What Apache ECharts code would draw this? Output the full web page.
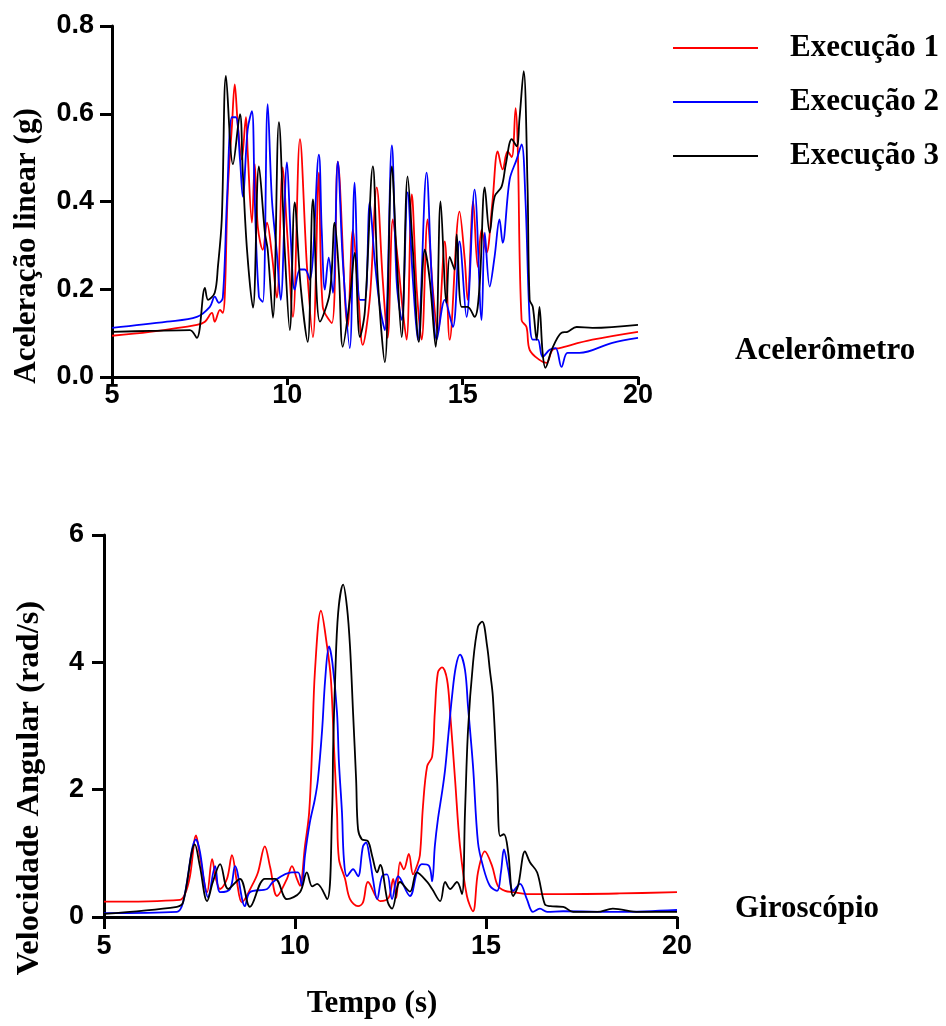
<!DOCTYPE html>
<html>
<head>
<meta charset="utf-8">
<title>Acelerômetro e Giroscópio</title>
<script src="https://cdn.jsdelivr.net/npm/echarts@6/dist/echarts.min.js"></script>
<style>
  html, body { margin: 0; padding: 0; background: #fff; }
  #chart { width: 946px; height: 1026px; }
</style>
</head>
<body>
<div id="chart"></div>
<script>
// nomes das execuções
var seriesNames = ['Execução 1', 'Execução 2', 'Execução 3'];
var lineColors = ['#ff0000', '#0000ff', '#000000'];

// acelerômetro: [tempo (s), aceleração linear (g)]
var acc1 = [[5.00,0.094],[6.08,0.103],[7.42,0.119],[7.65,0.126],[7.85,0.146],[7.93,0.126],[8.08,0.153],[8.16,0.146],[8.22,0.192],[8.30,0.421],[8.42,0.572],[8.50,0.667],[8.59,0.572],[8.70,0.496],[8.82,0.592],[8.87,0.512],[8.99,0.352],[9.07,0.485],[9.16,0.341],[9.30,0.290],[9.42,0.352],[9.56,0.279],[9.70,0.181],[9.87,0.478],[9.99,0.336],[10.16,0.137],[10.36,0.542],[10.56,0.251],[10.73,0.091],[10.90,0.466],[11.01,0.160],[11.27,0.123],[11.44,0.491],[11.72,0.114],[11.87,0.336],[12.01,0.206],[12.15,0.073],[12.35,0.176],[12.55,0.432],[12.72,0.222],[12.86,0.089],[13.01,0.359],[13.15,0.267],[13.29,0.153],[13.40,0.085],[13.55,0.416],[13.69,0.199],[13.83,0.085],[14.00,0.359],[14.15,0.199],[14.29,0.101],[14.49,0.309],[14.63,0.085],[14.91,0.377],[15.06,0.267],[15.14,0.176],[15.30,0.400],[15.43,0.251],[15.54,0.336],[15.68,0.283],[15.85,0.400],[16.00,0.514],[16.14,0.473],[16.28,0.514],[16.40,0.501],[16.51,0.613],[16.57,0.526],[16.68,0.130],[16.82,0.114],[16.91,0.062],[17.19,0.039],[17.39,0.032],[17.56,0.062],[17.76,0.066],[18.70,0.085],[20.00,0.103]];
var acc2 = [[5.00,0.112],[6.57,0.126],[7.42,0.137],[7.79,0.160],[7.93,0.183],[8.05,0.169],[8.16,0.181],[8.28,0.405],[8.42,0.592],[8.53,0.592],[8.65,0.496],[8.73,0.411],[8.87,0.565],[8.99,0.606],[9.07,0.405],[9.19,0.183],[9.30,0.171],[9.44,0.622],[9.56,0.405],[9.70,0.283],[9.81,0.176],[9.99,0.489],[10.10,0.313],[10.21,0.199],[10.36,0.245],[10.50,0.245],[10.64,0.222],[10.90,0.507],[10.98,0.336],[11.07,0.199],[11.18,0.272],[11.30,0.192],[11.44,0.491],[11.58,0.267],[11.78,0.066],[11.92,0.443],[12.07,0.176],[12.21,0.176],[12.35,0.398],[12.49,0.267],[12.64,0.160],[12.78,0.107],[12.98,0.528],[13.12,0.215],[13.26,0.130],[13.43,0.421],[13.58,0.222],[13.72,0.085],[13.97,0.466],[14.12,0.222],[14.26,0.085],[14.49,0.176],[14.72,0.114],[14.91,0.309],[15.11,0.137],[15.34,0.427],[15.54,0.130],[15.63,0.329],[15.77,0.206],[15.91,0.274],[16.05,0.359],[16.14,0.306],[16.34,0.450],[16.54,0.496],[16.68,0.530],[16.79,0.405],[16.91,0.130],[17.00,0.085],[17.14,0.085],[17.28,0.046],[17.48,0.062],[17.65,0.066],[17.82,0.023],[17.99,0.055],[18.33,0.055],[19.27,0.078],[20.00,0.089]];
var acc3 = [[5.00,0.103],[6.08,0.105],[7.22,0.107],[7.42,0.089],[7.65,0.203],[7.74,0.176],[7.93,0.192],[8.02,0.251],[8.13,0.359],[8.25,0.686],[8.45,0.485],[8.65,0.599],[8.73,0.466],[8.85,0.290],[9.02,0.158],[9.19,0.480],[9.36,0.329],[9.44,0.290],[9.59,0.135],[9.76,0.581],[9.93,0.283],[10.07,0.107],[10.21,0.398],[10.38,0.206],[10.58,0.080],[10.73,0.405],[10.93,0.126],[11.21,0.192],[11.35,0.352],[11.47,0.238],[11.58,0.069],[11.78,0.176],[11.92,0.283],[12.07,0.091],[12.21,0.149],[12.44,0.480],[12.58,0.222],[12.78,0.034],[12.98,0.480],[13.12,0.267],[13.26,0.091],[13.43,0.457],[13.58,0.290],[13.75,0.080],[13.92,0.290],[14.06,0.222],[14.23,0.069],[14.37,0.400],[14.54,0.169],[14.63,0.274],[14.77,0.245],[14.83,0.325],[14.97,0.160],[15.14,0.160],[15.34,0.137],[15.48,0.206],[15.63,0.432],[15.77,0.329],[15.91,0.411],[16.11,0.434],[16.23,0.485],[16.40,0.542],[16.54,0.526],[16.62,0.588],[16.74,0.697],[16.85,0.434],[16.91,0.176],[17.00,0.160],[17.11,0.085],[17.19,0.160],[17.28,0.055],[17.36,0.021],[17.54,0.062],[17.82,0.101],[17.99,0.103],[18.25,0.114],[18.70,0.112],[20.00,0.119]];

// giroscópio: [tempo (s), velocidade angular (rad/s)]
var gyr1 = [[5.00,0.24],[6.99,0.27],[7.12,0.36],[7.25,0.64],[7.41,1.28],[7.51,0.96],[7.70,0.39],[7.83,0.91],[7.93,0.60],[8.04,0.44],[8.22,0.60],[8.35,0.97],[8.48,0.55],[8.61,0.23],[8.87,0.49],[9.03,0.70],[9.21,1.11],[9.35,0.78],[9.53,0.33],[9.79,0.60],[9.92,0.80],[10.05,0.60],[10.13,0.49],[10.26,1.11],[10.37,1.64],[10.45,2.68],[10.52,3.84],[10.68,4.81],[10.84,4.25],[10.94,3.73],[11.02,2.68],[11.10,1.64],[11.15,0.91],[11.31,0.60],[11.44,0.28],[11.65,0.17],[11.78,0.23],[11.91,0.55],[12.23,0.25],[12.45,0.30],[12.57,0.60],[12.65,0.30],[12.75,0.86],[12.85,0.75],[12.98,0.99],[13.09,0.67],[13.19,0.80],[13.27,0.97],[13.35,1.74],[13.46,2.37],[13.59,2.52],[13.66,3.21],[13.74,3.84],[13.85,3.92],[13.98,3.73],[14.06,3.21],[14.19,2.16],[14.32,1.11],[14.50,0.33],[14.66,0.09],[14.79,0.70],[14.97,1.03],[15.16,0.80],[15.31,0.49],[15.50,0.41],[15.71,0.39],[16.07,0.36],[17.00,0.36],[18.50,0.37],[20.00,0.39]];
var gyr2 = [[5.00,0.06],[6.91,0.08],[7.07,0.23],[7.41,1.22],[7.51,1.03],[7.64,0.49],[7.72,0.31],[7.91,0.80],[8.04,0.39],[8.30,0.44],[8.43,0.80],[8.69,0.17],[8.82,0.39],[9.27,0.44],[9.42,0.55],[9.92,0.70],[10.08,0.70],[10.18,0.49],[10.26,0.96],[10.39,1.49],[10.52,1.85],[10.60,2.16],[10.71,2.94],[10.79,3.73],[10.89,4.25],[10.98,3.99],[11.10,3.21],[11.15,2.43],[11.23,1.64],[11.28,0.91],[11.36,0.64],[11.52,0.75],[11.65,0.64],[11.78,1.11],[11.86,1.17],[11.96,0.91],[12.04,0.60],[12.15,0.28],[12.28,0.64],[12.41,0.67],[12.54,0.28],[12.70,0.64],[13.01,0.33],[13.19,0.70],[13.32,0.83],[13.51,0.80],[13.59,0.56],[13.66,1.11],[13.74,1.53],[13.85,1.96],[13.93,2.32],[14.01,2.83],[14.11,3.46],[14.21,3.93],[14.32,4.12],[14.45,3.88],[14.53,3.30],[14.66,2.37],[14.79,1.17],[14.92,0.80],[15.10,0.49],[15.29,0.41],[15.39,0.70],[15.47,1.06],[15.58,0.75],[15.71,0.41],[15.89,0.52],[16.07,0.28],[16.23,0.08],[16.41,0.13],[16.60,0.08],[17.02,0.09],[18.50,0.08],[20.00,0.11]];
var gyr3 = [[5.00,0.05],[6.91,0.16],[7.07,0.23],[7.38,1.14],[7.51,0.80],[7.70,0.25],[7.85,0.55],[8.04,0.83],[8.25,0.44],[8.56,0.60],[8.82,0.16],[9.21,0.60],[9.48,0.60],[9.79,0.28],[10.13,0.39],[10.31,0.70],[10.45,0.48],[10.58,0.52],[10.84,0.28],[10.97,1.64],[11.00,2.68],[11.05,3.73],[11.13,4.78],[11.26,5.22],[11.36,4.87],[11.44,4.25],[11.52,3.21],[11.60,2.16],[11.65,1.38],[11.75,1.22],[11.91,1.19],[12.02,0.96],[12.15,0.70],[12.23,0.82],[12.43,0.23],[12.54,0.13],[12.75,0.55],[13.01,0.40],[13.19,0.70],[13.46,0.55],[13.59,0.44],[13.80,0.25],[13.93,0.55],[14.06,0.44],[14.24,0.55],[14.37,0.36],[14.45,1.64],[14.53,2.94],[14.66,3.99],[14.79,4.56],[14.90,4.64],[15.03,4.25],[15.10,3.88],[15.18,3.46],[15.29,2.16],[15.37,1.27],[15.47,1.30],[15.58,1.02],[15.71,0.33],[15.84,0.49],[16.02,1.03],[16.15,0.86],[16.34,0.70],[16.54,0.20],[16.68,0.17],[17.02,0.16],[17.28,0.08],[17.91,0.08],[18.32,0.13],[19.00,0.08],[20.00,0.08]];

var serifFont = '"Liberation Serif", "Times New Roman", serif';
var sansFont = '"Liberation Sans", Arial, sans-serif';

function axisLine() {
  return { show: true, lineStyle: { color: '#000', width: 3 } };
}
function axisTick(len) {
  return { show: true, inside: false, length: len, lineStyle: { color: '#000', width: 3 } };
}
function tickLabel(margin) {
  return { color: '#000', fontFamily: sansFont, fontWeight: 'bold', fontSize: 27, margin: margin };
}

function makeSeries(data, i, gridIdx) {
  return {
    name: seriesNames[i],
    type: 'line',
    xAxisIndex: gridIdx,
    yAxisIndex: gridIdx,
    data: data,
    showSymbol: false,
    symbol: 'none',
    smooth: 0.35,
    lineStyle: { color: lineColors[i], width: 1.8 },
    itemStyle: { color: lineColors[i] },
    z: 2 + i
  };
}

var chart = echarts.init(document.getElementById('chart'));
var option = {
  animation: false,
  backgroundColor: '#fff',
  grid: [
    { left: 112, top: 26, width: 526, height: 351 },
    { left: 104, top: 535, width: 573, height: 382 }
  ],
  legend: {
    orient: 'vertical',
    left: 668,
    top: 26,
    icon: 'rect',
    itemWidth: 85,
    itemHeight: 2,
    itemGap: 20,
    data: seriesNames,
    textStyle: {
      color: '#000', fontFamily: serifFont, fontWeight: 'bold', fontSize: 31,
      lineHeight: 34, padding: [0, 0, 0, 27]
    }
  },
  xAxis: [
    { type: 'value', gridIndex: 0, min: 5, max: 20, interval: 5,
      axisLine: axisLine(), axisTick: axisTick(8), axisLabel: tickLabel(5), splitLine: { show: false } },
    { type: 'value', gridIndex: 1, min: 5, max: 20, interval: 5,
      axisLine: axisLine(), axisTick: axisTick(12), axisLabel: tickLabel(16), splitLine: { show: false } }
  ],
  yAxis: [
    { type: 'value', gridIndex: 0, min: 0, max: 0.8, interval: 0.2,
      axisLine: axisLine(), axisTick: axisTick(12),
      axisLabel: Object.assign(tickLabel(18), { formatter: function (v) { return v.toFixed(1); } }),
      splitLine: { show: false } },
    { type: 'value', gridIndex: 1, min: 0, max: 6, interval: 2,
      axisLine: axisLine(), axisTick: axisTick(12), axisLabel: tickLabel(20), splitLine: { show: false } }
  ],
  graphic: [
    { type: 'text', x: 27, y: 246, rotation: Math.PI / 2,
      style: { text: 'Aceleração linear (g)', font: 'bold 31px ' + serifFont, fill: '#000', align: 'center', verticalAlign: 'middle' } },
    { type: 'text', x: 30, y: 788, rotation: Math.PI / 2,
      style: { text: 'Velocidade Angular (rad/s)', font: 'bold 32.5px ' + serifFont, fill: '#000', align: 'center', verticalAlign: 'middle' } },
    { type: 'text', x: 372, y: 1004,
      style: { text: 'Tempo (s)', font: 'bold 31px ' + serifFont, fill: '#000', align: 'center', verticalAlign: 'middle' } },
    { type: 'text', x: 735, y: 351,
      style: { text: 'Acelerômetro', font: 'bold 31px ' + serifFont, fill: '#000', align: 'left', verticalAlign: 'middle' } },
    { type: 'text', x: 735, y: 909,
      style: { text: 'Giroscópio', font: 'bold 31px ' + serifFont, fill: '#000', align: 'left', verticalAlign: 'middle' } }
  ],
  series: [
    makeSeries(acc1, 0, 0),
    makeSeries(acc2, 1, 0),
    makeSeries(acc3, 2, 0),
    makeSeries(gyr1, 0, 1),
    makeSeries(gyr2, 1, 1),
    makeSeries(gyr3, 2, 1)
  ]
};
chart.setOption(option);
</script>
</body>
</html>
